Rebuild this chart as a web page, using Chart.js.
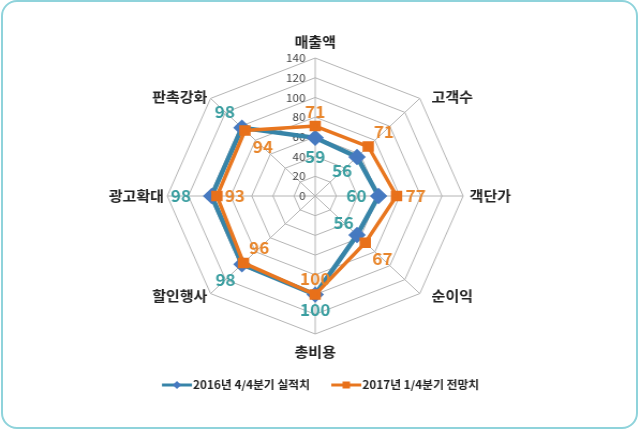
<!DOCTYPE html>
<html>
<head>
<meta charset="utf-8">
<script src="https://cdn.jsdelivr.net/npm/chart.js@4.4.1/dist/chart.umd.min.js"></script>
<style>
  html, body { margin: 0; padding: 0; background: #fff; }
  #wrap { position: relative; width: 640px; height: 433px; overflow: hidden; }
  #frame { position: absolute; left: 1px; top: 0px; width: 633px; height: 425px;
           border: 2px solid #8fd3db; border-radius: 16px; pointer-events: none; }
</style>
</head>
<body>
<div id="wrap">
  <!-- 원본 그림은 가로로 약간 늘어나 있음: 597px 캔버스를 640px로 표시 -->
  <canvas id="chart" width="597" height="433" style="display:block;width:640px;height:433px"></canvas>
  <div id="frame"></div>
</div>
<script>
// 항목 / 계열 데이터
var categories = ['매출액', '고객수', '객단가', '순이익', '총비용', '할인행사', '광고확대', '판촉강화'];
var seriesNames = ['2016년 4/4분기 실적치', '2017년 1/4분기 전망치'];
var actual2016 = [59, 56, 60, 56, 100, 98, 98, 98];
var forecast2017 = [71, 71, 77, 67, 100, 96, 93, 94];
var axisMax = 140;
var axisStep = 20;

var FONT = "'Noto Sans CJK KR', 'Noto Sans', sans-serif";

// 데이터 레이블 위치 (값 단위, 반지름 방향 이동)
var labelShift = [
  [-19, -20, -21, -18, 16, 22, 29, 23],
  [14, 21, 18, 23, -16, -21, -17, -24]
];
var labelColors = ['#3a9ea0', '#e8862c'];

var valueLabels = {
  id: 'valueLabels',
  afterDatasetsDraw: function (chart) {
    var ctx = chart.ctx;
    var scale = chart.scales.r;
    ctx.save();
    ctx.font = 'bold 16px ' + FONT;
    ctx.textAlign = 'center';
    ctx.textBaseline = 'middle';
    chart.data.datasets.forEach(function (ds, di) {
      ds.data.forEach(function (v, i) {
        var p = scale.getPointPositionForValue(i, v + labelShift[di][i]);
        ctx.fillStyle = labelColors[di];
        ctx.fillText(String(v), p.x, p.y);
      });
    });
    ctx.restore();
  }
};

// 축 이름: 바깥 꼭짓점 옆에 붙임
var axisNames = {
  id: 'axisNames',
  afterDraw: function (chart) {
    var ctx = chart.ctx;
    var scale = chart.scales.r;
    ctx.save();
    ctx.font = 'bold 14px ' + FONT;
    ctx.fillStyle = '#222';
    ctx.textBaseline = 'middle';
    categories.forEach(function (name, i) {
      var p = scale.getPointPosition(i, scale.drawingArea);
      var dx = p.x - scale.xCenter, dy = p.y - scale.yCenter;
      var diag = Math.abs(dx) > 1 && Math.abs(dy) > 1;
      var yy = p.y + (diag ? (dy < 0 ? -2 : 2) : 0);
      if (Math.abs(dx) < 1) {
        ctx.textAlign = 'center';
        ctx.fillText(name, p.x, p.y + (dy < 0 ? -16 : 18));
      } else if (dx > 0) {
        ctx.textAlign = 'left';
        ctx.fillText(name, p.x + (diag ? 11 : 6), yy);
      } else {
        ctx.textAlign = 'right';
        ctx.fillText(name, p.x - 3, yy);
      }
    });
    ctx.restore();
  }
};

var tickText = {
  id: 'tickText',
  beforeDatasetsDraw: function (chart) {
    var ctx = chart.ctx;
    var scale = chart.scales.r;
    ctx.save();
    ctx.font = '11px ' + FONT;
    ctx.fillStyle = '#444';
    ctx.textAlign = 'right';
    ctx.textBaseline = 'middle';
    scale.ticks.forEach(function (t) {
      var d = scale.getDistanceFromCenterForValue(t.value);
      ctx.fillText(String(t.value), scale.xCenter - 9, scale.yCenter - d);
    });
    ctx.restore();
  }
};

var bottomLegend = {
  id: 'bottomLegend',
  afterDraw: function (chart) {
    var ctx = chart.ctx;
    var y = 385;
    ctx.save();
    ctx.font = 'bold 11px ' + FONT;
    ctx.textBaseline = 'middle';
    var lineW = 28, gap = 1, between = 20;
    var w0 = ctx.measureText(seriesNames[0]).width;
    var w1 = ctx.measureText(seriesNames[1]).width;
    var total = lineW + gap + w0 + between + lineW + gap + w1;
    var x = 299 - total / 2;
    var ds = chart.data.datasets;
    [0, 1].forEach(function (k) {
      var d = ds[k];
      ctx.strokeStyle = d.borderColor;
      ctx.lineWidth = 3;
      ctx.beginPath();
      ctx.moveTo(x, y);
      ctx.lineTo(x + lineW, y);
      ctx.stroke();
      ctx.fillStyle = d.pointBackgroundColor;
      var cx = x + lineW / 2;
      ctx.beginPath();
      if (d.pointStyle === 'rectRot') {
        ctx.moveTo(cx, y - 4); ctx.lineTo(cx + 4, y); ctx.lineTo(cx, y + 4); ctx.lineTo(cx - 4, y);
      } else {
        ctx.rect(cx - 3.5, y - 3.5, 7, 7);
      }
      ctx.closePath();
      ctx.fill();
      ctx.fillStyle = '#222';
      ctx.textAlign = 'left';
      ctx.fillText(seriesNames[k], x + lineW + gap, y);
      x += lineW + gap + (k === 0 ? w0 : w1) + between;
    });
    ctx.restore();
  }
};

new Chart(document.getElementById('chart'), {
  type: 'radar',
  data: {
    labels: categories,
    datasets: [
      {
        label: seriesNames[0],
        data: actual2016,
        borderColor: '#3784a8',
        borderWidth: 4.5,
        pointStyle: 'rectRot',
        pointRadius: 5,
        pointBackgroundColor: '#4679c0',
        pointBorderColor: '#4679c0',
        fill: false,
        order: 1
      },
      {
        label: seriesNames[1],
        data: forecast2017,
        borderColor: '#e8761f',
        borderWidth: 3.5,
        pointStyle: 'rect',
        pointRadius: 5,
        pointBackgroundColor: '#e8701a',
        pointBorderColor: '#e8701a',
        fill: false,
        order: 0
      }
    ]
  },
  options: {
    responsive: false,
    animation: false,
    devicePixelRatio: 1,
    layout: { padding: { left: 0, right: 9, top: 58, bottom: 98 } },
    plugins: {
      legend: { display: false },
      tooltip: { enabled: false }
    },
    scales: {
      r: {
        min: 0,
        max: axisMax,
        ticks: { stepSize: axisStep, display: false },
        grid: { color: '#b4b4b4', lineWidth: 1 },
        angleLines: { color: '#b4b4b4', lineWidth: 1 },
        pointLabels: { display: false }
      }
    }
  },
  plugins: [tickText, valueLabels, axisNames, bottomLegend]
});
</script>
</body>
</html>
